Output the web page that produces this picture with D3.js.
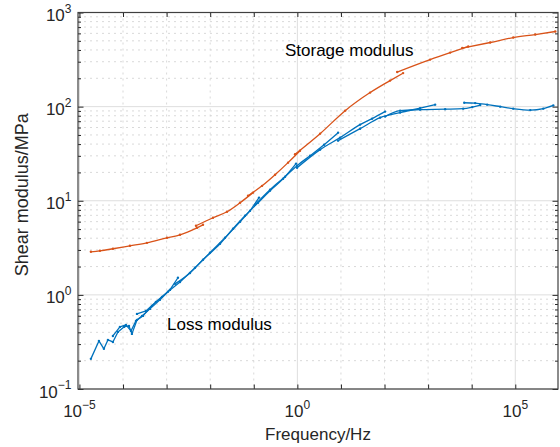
<!DOCTYPE html>
<html><head><meta charset="utf-8">
<script src="https://cdn.jsdelivr.net/npm/d3@7"></script>
<style>body{margin:0;background:#fff}svg{display:block}</style>
</head><body><svg id="c" width="560" height="447"></svg>
<script>
// ---- data: frequency (Hz), modulus (MPa) ----
const storage1 = [[1.83e-5,2.87],[2.95e-5,2.94],[5.86e-5,3.09],[1.44e-4,3.32],[3.54e-4,3.57],[1.02e-3,4.04],[2.03e-3,4.35],[4.98e-3,5.16],[6.84e-3,5.55]];
const storage2 = [[4.72e-3,5.42],[1.16e-2,6.60],[2.43e-2,7.64],[4.84e-2,9.52],[9.61e-2,12.2]];
const storage3 = [[7.38e-2,11.3],[0.155,14.4],[0.308,18.9],[0.611,25.4],[1.15,34.0]];
const storage4 = [[0.885,31.2],[3.32,51.6],[12.5,90.6],[46.7,141],[134,189],[267,227]];
const storage5 = [[195,233],[1110,316],[3210,375],[8320,435]];
const storage6 = [[6050,419],[26600,480],[89800,542],[287000,583],[828000,628]];

const loss1 = [[1.83e-5,0.209],[2.80e-5,0.324],[3.64e-5,0.267],[4.50e-5,0.332],[5.86e-5,0.316],[7.64e-5,0.404],[1.05e-4,0.457],[1.37e-4,0.468],[1.60e-4,0.385],[2.09e-4,0.542],[2.86e-4,0.598],[4.61e-4,0.764],[7.82e-4,0.952],[1.19e-3,1.13]];
const loss2 = [[5.86e-5,0.366],[8.49e-5,0.457],[1.17e-4,0.480],[1.52e-4,0.414],[1.98e-4,0.529],[2.72e-4,0.598],[4.15e-4,0.710],[7.04e-4,0.885],[1.19e-3,1.13],[1.82e-3,1.52]];
const loss3 = [[2.09e-4,0.628],[3.36e-4,0.676],[5.70e-4,0.843],[1.07e-3,1.08],[2.03e-3,1.37],[4.48e-3,1.94],[9.89e-3,2.80],[2.19e-2,4.04],[4.84e-2,5.98],[8.20e-2,7.83],[0.132,10.8]];
const loss4 = [[1.56e-3,1.31],[3.44e-3,1.71],[6.84e-3,2.36],[1.68e-2,3.49],[3.34e-2,5.04],[6.30e-2,6.92],[0.125,9.52],[0.236,12.8],[0.470,17.1],[0.933,24.8]];
const loss5 = [[0.107,9.06],[0.236,13.1],[0.522,18.0],[0.984,23.6],[1.96,30.1],[4.10,39.4],[8.60,52.9]];
const loss6 = [[0.984,22.4],[3.32,34.9],[9.56,46.8],[27.5,64.4],[51.9,74.5],[103,88.5]];
const loss7 = [[8.60,43.5],[27.5,58.3],[79.2,76.4],[228,86.4],[656,96.4],[1450,105]];
const loss8 = [[103,78.3],[228,90.6],[656,92.9],[2460,94.0],[6380,95.2],[10300,98.9],[15700,104]];
const loss9 = [[6730,110],[12000,109],[22700,105],[45200,100],[89800,95.2],[221000,91.8],[439000,95.2],[745000,103]];

const storageSegments = [storage1,storage2,storage3,storage4,storage5,storage6];
const lossSegments = [loss1,loss2,loss3,loss4,loss5,loss6,loss7,loss8,loss9];

const xTickExp = [-5,0,5];
const yTickExp = [-1,0,1,2,3];
const xLabel = "Frequency/Hz";
const yLabel = "Shear modulus/MPa";
const storageLabel = "Storage modulus";
const lossLabel = "Loss modulus";

// ---- layout ----
const M = {l:78, r:558, t:12.5, b:389};
const x = d3.scaleLog().domain([Math.pow(10,-5.033), Math.pow(10,5.98)]).range([M.l, M.r]);
const y = d3.scaleLog().domain([0.1, 1000]).range([M.b, M.t]);
const svg = d3.select("#c");
const FONT = "'Liberation Sans', Arial, Helvetica, sans-serif";
const AX = "#262626";

const xDecades = d3.range(-5, 7).map(e => Math.pow(10, e)).filter(v => v >= x.domain()[0] && v <= x.domain()[1]);
const xMajor = xTickExp.map(e => Math.pow(10, e));
const xMinor = xDecades.filter(v => !xMajor.some(mj => Math.abs(Math.log10(mj) - Math.log10(v)) < 1e-9));
const yMajor = yTickExp.map(e => Math.pow(10, e));
const yMinor = [];
[-1,0,1,2].forEach(d => { for (let k = 2; k <= 9; k++) yMinor.push(k * Math.pow(10, d)); });

// ---- grid ----
const grid = svg.append("g");
grid.selectAll(".yminor").data(yMinor).join("line")
  .attr("x1", M.l).attr("x2", M.r)
  .attr("y1", d => y(d)).attr("y2", d => y(d))
  .attr("stroke", "#cfcfcf").attr("stroke-width", 0.8).attr("stroke-dasharray", "2,4");
grid.selectAll(".xminor").data(xMinor).join("line")
  .attr("y1", M.t).attr("y2", M.b)
  .attr("x1", d => x(d)).attr("x2", d => x(d))
  .attr("stroke", "#cfcfcf").attr("stroke-width", 0.8).attr("stroke-dasharray", "2,4");
grid.selectAll(".ymajor").data(yMajor).join("line")
  .attr("x1", M.l).attr("x2", M.r)
  .attr("y1", d => y(d)).attr("y2", d => y(d))
  .attr("stroke", "#dedede").attr("stroke-width", 1);
grid.selectAll(".xmajor").data(xMajor).join("line")
  .attr("y1", M.t).attr("y2", M.b)
  .attr("x1", d => x(d)).attr("x2", d => x(d))
  .attr("stroke", "#dedede").attr("stroke-width", 1);

// ---- data lines ----
const smooth = d3.line().x(d => x(d[0])).y(d => y(d[1])).curve(d3.curveMonotoneX);
const straight = d3.line().x(d => x(d[0])).y(d => y(d[1]));
function drawSeries(segs, color, linearIdx) {
  const gg = svg.append("g");
  segs.forEach((seg, i) => {
    const gen = linearIdx.includes(i) ? straight : smooth;
    gg.append("path").attr("d", gen(seg)).attr("fill", "none")
      .attr("stroke", color).attr("stroke-width", 1.3).attr("stroke-linejoin", "round");
    gg.selectAll(null).data(seg).join("circle")
      .attr("cx", d => x(d[0])).attr("cy", d => y(d[1])).attr("r", 1.2).attr("fill", color);
  });
}
drawSeries(storageSegments, "#D95319", []);
drawSeries(lossSegments, "#0072BD", [0, 1, 2]);

// ---- axes (ticks inward, mirrored) ----
function styleAxis(sel) {
  sel.select(".domain").remove();
  sel.selectAll(".tick line").attr("stroke", AX).attr("stroke-width", 1);
  sel.selectAll(".tick text").remove();
}
svg.append("g").attr("transform", `translate(0,${M.b})`)
  .call(d3.axisBottom(x).tickValues(xDecades).tickSize(-4.5).tickFormat("")).call(styleAxis);
svg.append("g").attr("transform", `translate(0,${M.t})`)
  .call(d3.axisTop(x).tickValues(xDecades).tickSize(-4.5).tickFormat("")).call(styleAxis);
svg.append("g").attr("transform", `translate(${M.l},0)`)
  .call(d3.axisLeft(y).tickValues(yMajor).tickSize(-5.5).tickFormat("")).call(styleAxis);
svg.append("g").attr("transform", `translate(${M.l},0)`)
  .call(d3.axisLeft(y).tickValues(yMinor).tickSize(-3).tickFormat("")).call(styleAxis);
svg.append("g").attr("transform", `translate(${M.r},0)`)
  .call(d3.axisRight(y).tickValues(yMajor).tickSize(-5.5).tickFormat("")).call(styleAxis);
svg.append("g").attr("transform", `translate(${M.r},0)`)
  .call(d3.axisRight(y).tickValues(yMinor).tickSize(-3).tickFormat("")).call(styleAxis);

svg.append("rect").attr("x", M.l).attr("y", M.t).attr("width", M.r - M.l).attr("height", M.b - M.t)
  .attr("fill", "none").attr("stroke", "#404040").attr("stroke-width", 1.2);

// ---- tick labels ----
function expLabel(sel, e) {
  sel.append("tspan").text("10");
  sel.append("tspan").attr("dy", -8.5).attr("font-size", 12).text(e < 0 ? "\u2212" + (-e) : String(e));
}
xTickExp.forEach(e => {
  const t = svg.append("text").attr("x", x(Math.pow(10, e))).attr("y", 417)
    .attr("text-anchor", "middle").attr("font-family", FONT).attr("font-size", 17).attr("fill", AX);
  expLabel(t, e);
});
yTickExp.forEach(e => {
  const t = svg.append("text").attr("x", 71.5).attr("y", y(Math.pow(10, e)) + 8.5)
    .attr("text-anchor", "end").attr("font-family", FONT).attr("font-size", 17).attr("fill", AX);
  expLabel(t, e);
});

// ---- axis labels ----
svg.append("text").attr("x", (M.l + M.r) / 2).attr("y", 439.5).attr("text-anchor", "middle")
  .attr("font-family", FONT).attr("font-size", 17).attr("fill", AX).text(xLabel);
svg.append("text").attr("transform", `translate(28,${(M.t + M.b) / 2 - 6}) rotate(-90)`)
  .attr("text-anchor", "middle").attr("font-family", FONT).attr("font-size", 18).attr("fill", AX).text(yLabel);

// ---- annotations ----
svg.append("text").attr("x", x(0.52)).attr("y", y(345)).attr("font-family", FONT).attr("font-size", 17)
  .attr("fill", "#000").text(storageLabel);
svg.append("text").attr("x", x(1.02e-3)).attr("y", y(0.425)).attr("font-family", FONT).attr("font-size", 17)
  .attr("fill", "#000").text(lossLabel);
</script></body></html>
